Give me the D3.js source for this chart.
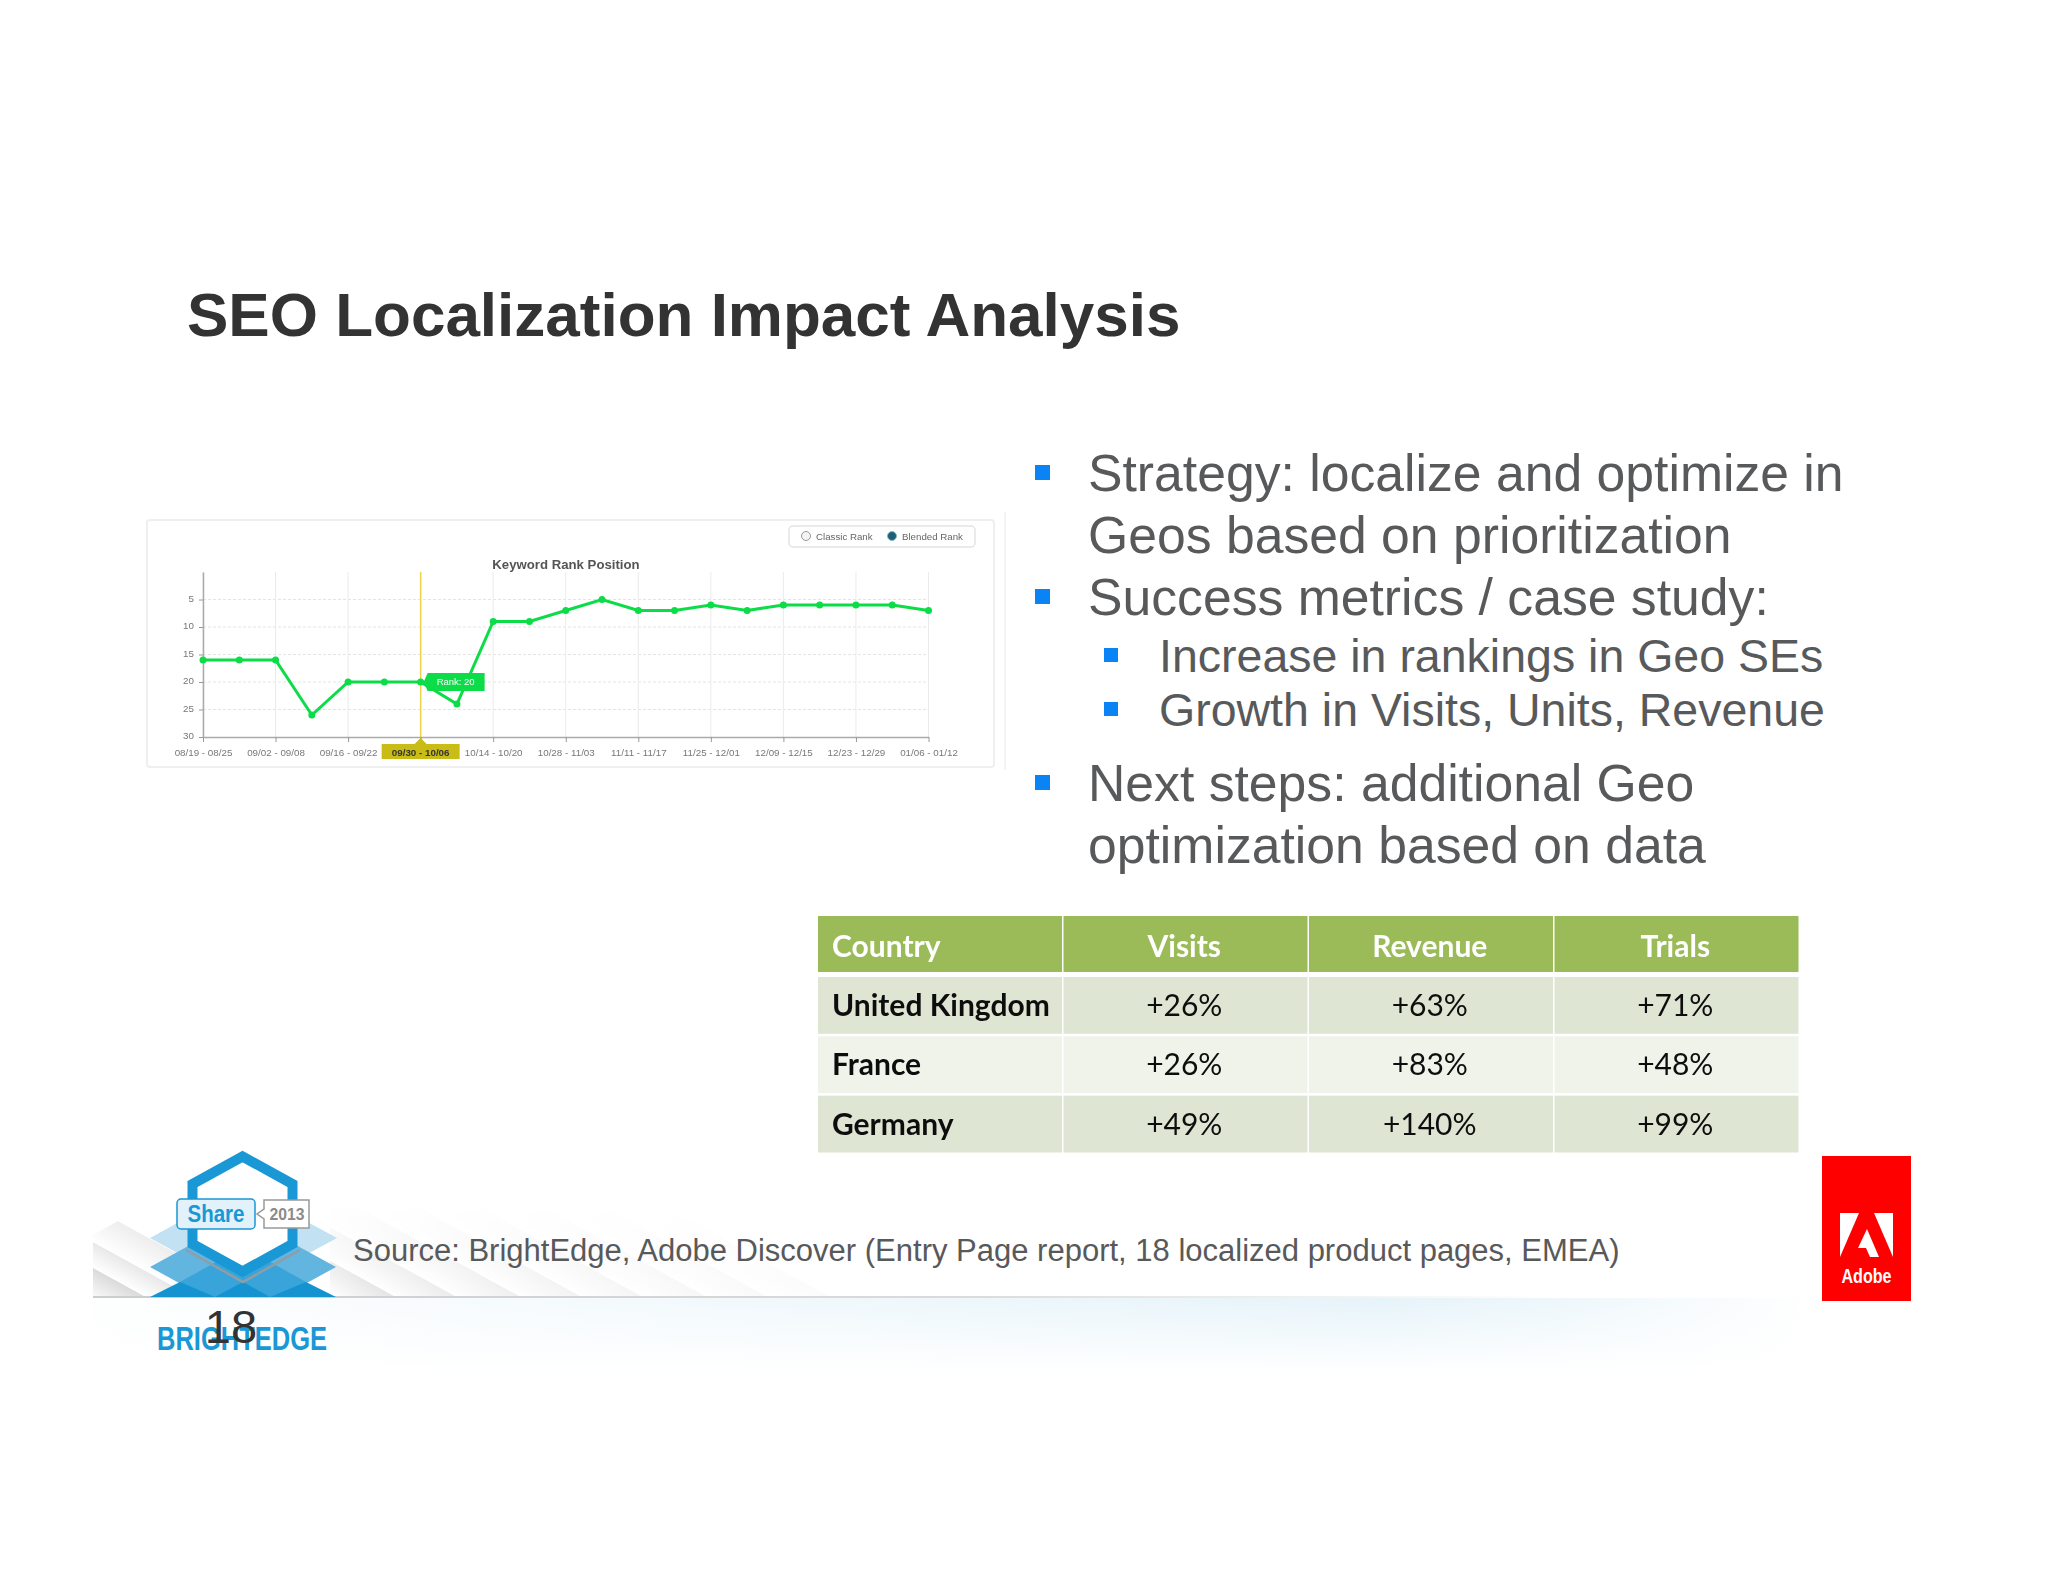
<!DOCTYPE html>
<html>
<head>
<meta charset="utf-8">
<script src="https://cdn.jsdelivr.net/npm/d3@7"></script>
<style>
  html, body { margin: 0; background: #fff; }
  svg { display: block; }
  text { font-family: "Liberation Sans", Arial, sans-serif; }
  .tbl text { font-family: Lato, sans-serif; }
</style>
</head>
<body>
<svg id="slide" width="2048" height="1582"></svg>
<script>
// rank chart data
var weeks = ['08/19 - 08/25', '08/26 - 09/01', '09/02 - 09/08', '09/09 - 09/15', '09/16 - 09/22',
  '09/23 - 09/29', '09/30 - 10/06', '10/07 - 10/13', '10/14 - 10/20', '10/21 - 10/27', '10/28 - 11/03',
  '11/04 - 11/10', '11/11 - 11/17', '11/18 - 11/24', '11/25 - 12/01', '12/02 - 12/08', '12/09 - 12/15',
  '12/16 - 12/22', '12/23 - 12/29', '12/30 - 01/05', '01/06 - 01/12'];
var ranks = [16, 16, 16, 26, 20, 20, 20, 24, 9, 9, 7, 5, 7, 7, 6, 7, 6, 6, 6, 6, 7];
var rankTicks = [5, 10, 15, 20, 25, 30];
var selectedWeek = '09/30 - 10/06';
var selectedRank = 20;

// table data
var columns = ['Country', 'Visits', 'Revenue', 'Trials'];
var countries = ['United Kingdom', 'France', 'Germany'];
var visits = ['+26%', '+26%', '+49%'];
var revenue = ['+63%', '+83%', '+140%'];
var trials = ['+71%', '+48%', '+99%'];

// slide text
var bullets = [
  { text: 'Strategy: localize and optimize in', y: 491, square: true, sub: false },
  { text: 'Geos based on prioritization', y: 553, square: false, sub: false },
  { text: 'Success metrics / case study:', y: 615, square: true, sub: false },
  { text: 'Increase in rankings in Geo SEs', y: 672, square: true, sub: true },
  { text: 'Growth in Visits, Units, Revenue', y: 726, square: true, sub: true },
  { text: 'Next steps: additional Geo', y: 801, square: true, sub: false },
  { text: 'optimization based on data', y: 863, square: false, sub: false }
];

var svg = d3.select('#slide');
var defs = svg.append('defs');

defs.append('filter').attr('id', 'soft').append('feGaussianBlur').attr('stdDeviation', 0.6);
defs.append('filter').attr('id', 'softer').append('feGaussianBlur').attr('stdDeviation', 0.4);

function hGrad(id, stops) {
  var g = defs.append('linearGradient').attr('id', id);
  stops.forEach(function (s) {
    g.append('stop').attr('offset', s[0]).attr('stop-color', s[1]).attr('stop-opacity', s[2]);
  });
  return g;
}
hGrad('glowSide', [[0, '#ffffff', 0.95], [0.55, '#ffffff', 0.3], [0.75, '#ffffff', 0.1], [0.85, '#ffffff', 0.35], [1, '#ffffff', 1]]);
hGrad('ruleGrad', [[0, '#cccccc', 1], [0.5, '#dadada', 1], [0.85, '#ffffff', 1]]);
var glow = defs.append('linearGradient').attr('id', 'glow').attr('x2', 0).attr('y2', 1);
glow.append('stop').attr('offset', 0).attr('stop-color', '#e3f2f9');
glow.append('stop').attr('offset', 1).attr('stop-color', '#ffffff');

var fade = defs.append('linearGradient').attr('id', 'bandFade').attr('x2', 0).attr('y2', 1);
fade.append('stop').attr('offset', 0).attr('stop-color', '#fff').attr('stop-opacity', 0);
fade.append('stop').attr('offset', 0.6).attr('stop-color', '#fff').attr('stop-opacity', 0.7);
fade.append('stop').attr('offset', 1).attr('stop-color', '#fff').attr('stop-opacity', 1);
defs.append('mask').attr('id', 'bandMask').attr('maskUnits', 'userSpaceOnUse')
  .attr('x', 330).attr('y', 1205).attr('width', 900).attr('height', 92)
  .append('rect').attr('x', 330).attr('y', 1205).attr('width', 900).attr('height', 92).attr('fill', 'url(#bandFade)');
defs.append('clipPath').attr('id', 'leftClip').append('polygon').attr('points', '93,1235 118,1221 256,1297 93,1297');
defs.append('clipPath').attr('id', 'logoClip').append('rect').attr('x', 140).attr('y', 1140).attr('width', 210).attr('height', 157);

// diagonal stripes, each one shading up to its right edge
function stripes(parent, edges, idPrefix) {
  edges.forEach(function (e, i) {
    var xb = e[0], w = e[1], rise = 200;
    var g = defs.append('linearGradient').attr('id', idPrefix + i)
      .attr('gradientUnits', 'userSpaceOnUse')
      .attr('x1', xb - w).attr('y1', 1297)
      .attr('x2', xb - w + w * 0.232).attr('y2', 1297 - w * 0.422);
    g.append('stop').attr('offset', 0).attr('stop-color', '#ffffff');
    g.append('stop').attr('offset', 1).attr('stop-color', e[2]);
    parent.append('polygon')
      .attr('points', [[xb - w, 1297], [xb, 1297], [xb - rise, 1297 - rise * 0.55], [xb - w - rise, 1297 - rise * 0.55]].join(' '))
      .attr('fill', 'url(#' + idPrefix + i + ')');
  });
}

// footer
var footer = svg.append('g');
footer.append('rect').attr('x', 93).attr('y', 1298).attr('width', 1720).attr('height', 75).attr('fill', 'url(#glow)');
footer.append('rect').attr('x', 93).attr('y', 1298).attr('width', 1720).attr('height', 75).attr('fill', 'url(#glowSide)');
var leftBands = footer.append('g').attr('clip-path', 'url(#leftClip)');
stripes(leftBands, [[146, 62, '#dadada'], [193, 47, '#e8e8e8'], [256, 63, '#ededed']], 'bl');
var rightBands = footer.append('g').attr('mask', 'url(#bandMask)');
stripes(rightBands, [[396, 62, '#e4e4e4'], [457, 61, '#ebebeb'], [521, 64, '#efefef'], [582, 61, '#f2f2f2'],
  [643, 61, '#f5f5f5'], [707, 64, '#f7f7f7'], [768, 61, '#f9f9f9'], [830, 62, '#fbfbfb']], 'br');
footer.append('rect').attr('x', 93).attr('y', 1296).attr('width', 1720).attr('height', 2).attr('fill', 'url(#ruleGrad)');

// BrightEdge logo
var logo = svg.append('g');
var tiles = logo.append('g').attr('clip-path', 'url(#logoClip)');
[
  ['150,1238 243,1187 337,1238 243,1289', '#c2e2f3'],
  ['150,1267 243,1216 336,1267 243,1318', '#62b5df'],
  ['180,1282 243,1247 306,1282 243,1317', '#38a4da'],
  ['150,1297 180,1282 215,1297', '#1592d0'],
  ['215,1297 243,1282 270,1297', '#1592d0'],
  ['270,1297 306,1282 336,1297', '#1592d0']
].forEach(function (d) { tiles.append('polygon').attr('points', d[0]).attr('fill', d[1]); });
logo.append('polyline').attr('points', '186,1250 243,1282 300,1250')
  .attr('fill', 'none').attr('stroke', '#8f9ea6').attr('stroke-width', 2.5);
logo.append('polygon').attr('points', '242.5,1156.5 292.5,1184 292.5,1244 242.5,1271.5 192.5,1244 192.5,1184')
  .attr('fill', '#fff').attr('stroke', '#1a97d5').attr('stroke-width', 10);
logo.append('rect').attr('x', 177).attr('y', 1199).attr('width', 78).attr('height', 30).attr('rx', 4)
  .attr('fill', '#e2f1fa').attr('stroke', '#1a97d5').attr('stroke-width', 1.5);
logo.append('text').attr('x', 216).attr('y', 1222).attr('text-anchor', 'middle')
  .attr('textLength', 57).attr('lengthAdjust', 'spacingAndGlyphs')
  .attr('font-size', 24).attr('font-weight', 700).attr('fill', '#1a97d5').text('Share');
logo.append('polygon').attr('points', '264,1200 309,1200 309,1228 264,1228 264,1219 257,1214 264,1209')
  .attr('fill', '#fff').attr('stroke', '#999').attr('stroke-width', 1.5);
logo.append('text').attr('x', 287).attr('y', 1220).attr('text-anchor', 'middle')
  .attr('textLength', 35).attr('lengthAdjust', 'spacingAndGlyphs')
  .attr('font-size', 17).attr('font-weight', 700).attr('fill', '#8a8a8a').text('2013');
logo.append('text').attr('x', 157).attr('y', 1350).attr('textLength', 170).attr('lengthAdjust', 'spacingAndGlyphs')
  .attr('font-size', 33).attr('font-weight', 700).attr('fill', '#1a97d5').text('BRIGHTEDGE');

// page number sits on the logo in the original
svg.append('text').attr('x', 231).attr('y', 1343).attr('text-anchor', 'middle')
  .attr('font-size', 47).attr('fill', '#333').text('18');

// source line
svg.append('text').attr('x', 353).attr('y', 1261)
  .attr('font-size', 31).attr('fill', '#58595b')
  .text('Source: BrightEdge, Adobe Discover (Entry Page report, 18 localized product pages, EMEA)');

// title
svg.append('text').attr('x', 187).attr('y', 336)
  .attr('font-size', 62).attr('font-weight', 700).attr('fill', '#333')
  .text('SEO Localization Impact Analysis');

// bullet list
var list = svg.append('g');
bullets.forEach(function (b) {
  var tx = b.sub ? 1159 : 1088;
  list.append('text').attr('x', tx).attr('y', b.y)
    .attr('font-size', b.sub ? 46.5 : 51.7).attr('fill', '#58595b').text(b.text);
  if (b.square) {
    list.append('rect').attr('x', b.sub ? 1104 : 1035).attr('y', b.y - (b.sub ? 24 : 26))
      .attr('width', b.sub ? 14 : 15).attr('height', b.sub ? 14 : 15).attr('fill', '#0a84f5');
  }
});

// rank chart
var chart = svg.append('g').attr('filter', 'url(#soft)');
chart.append('line').attr('x1', 1005).attr('x2', 1005).attr('y1', 512).attr('y2', 770).attr('stroke', '#f4f4f4').attr('stroke-width', 2);
chart.append('rect').attr('x', 147).attr('y', 520).attr('width', 847).attr('height', 247).attr('rx', 3)
  .attr('fill', '#fff').attr('stroke', '#efefef').attr('stroke-width', 2);

var legend = chart.append('g');
legend.append('rect').attr('x', 789).attr('y', 526).attr('width', 186).attr('height', 21).attr('rx', 4)
  .attr('fill', '#fff').attr('stroke', '#e4e4e4').attr('stroke-width', 1.5);
legend.append('circle').attr('cx', 806).attr('cy', 536).attr('r', 4.5).attr('fill', '#f4f4f4').attr('stroke', '#999');
legend.append('circle').attr('cx', 892).attr('cy', 536).attr('r', 4.5).attr('fill', '#1b5e7d').attr('stroke', '#8bb');
legend.append('text').attr('x', 816).attr('y', 540).attr('font-size', 9.7).attr('fill', '#666').text('Classic Rank');
legend.append('text').attr('x', 902).attr('y', 540).attr('font-size', 9.7).attr('fill', '#666').text('Blended Rank');

chart.append('text').attr('x', 566).attr('y', 569).attr('text-anchor', 'middle')
  .attr('font-size', 13.2).attr('font-weight', 700).attr('fill', '#555').text('Keyword Rank Position');

var x = d3.scalePoint().domain(weeks).range([203, 928.5]);
var y = d3.scaleLinear().domain([0, 30]).range([572, 737]);
var labelWeeks = weeks.filter(function (d, i) { return i % 2 === 0; });

// grid
chart.append('g').selectAll('line').data(rankTicks.slice(0, -1)).join('line')
  .attr('x1', x.range()[0]).attr('x2', x.range()[1])
  .attr('y1', function (d) { return y(d); }).attr('y2', function (d) { return y(d); })
  .attr('stroke', '#e4e4e4').attr('stroke-dasharray', '3,2');
chart.append('g').selectAll('line').data(labelWeeks).join('line')
  .attr('x1', function (d) { return x(d); }).attr('x2', function (d) { return x(d); })
  .attr('y1', y(0)).attr('y2', y(30))
  .attr('stroke', '#ebebeb');

var xAxis = chart.append('g').attr('transform', 'translate(0,' + y(30) + ')')
  .call(d3.axisBottom(x).tickValues(labelWeeks).tickSize(5).tickSizeOuter(0).tickPadding(7));
xAxis.select('.domain').attr('stroke', '#aaa').attr('stroke-width', 1.5);
xAxis.selectAll('.tick line').attr('stroke', '#999');
xAxis.selectAll('text').attr('font-size', 9.8).attr('font-family', '"Liberation Sans"').attr('fill', '#777');

var yAxis = chart.append('g').attr('transform', 'translate(' + x.range()[0] + ',0)')
  .call(d3.axisLeft(y).tickValues(rankTicks).tickSize(4).tickSizeOuter(0).tickPadding(5));
yAxis.select('.domain').attr('stroke', '#aaa').attr('stroke-width', 1.5);
yAxis.selectAll('.tick line').attr('stroke', '#999');
yAxis.selectAll('text').attr('font-size', 9.8).attr('font-family', '"Liberation Sans"').attr('fill', '#777').attr('dy', '0.2em');

// selected week marker
var selX = x(selectedWeek);
chart.append('line').attr('x1', selX).attr('x2', selX).attr('y1', y(0)).attr('y2', y(30))
  .attr('stroke', '#e8d44d').attr('stroke-width', 1.5);
chart.append('rect').attr('x', selX - 39).attr('y', 744).attr('width', 78).attr('height', 15).attr('fill', '#c9bc12');
chart.append('polygon').attr('points', [[selX, 738], [selX - 6, 744], [selX + 6, 744]].join(' ')).attr('fill', '#c9bc12');
chart.append('text').attr('x', selX).attr('y', 755.5).attr('text-anchor', 'middle')
  .attr('font-size', 9.8).attr('font-weight', 700).attr('fill', '#333').text(selectedWeek);

// rank line
var line = d3.line()
  .x(function (d, i) { return x(weeks[i]); })
  .y(function (d) { return y(d); });
chart.append('path').datum(ranks).attr('d', line)
  .attr('fill', 'none').attr('stroke', '#0cdc48').attr('stroke-width', 3);
chart.append('g').selectAll('circle').data(ranks).join('circle')
  .attr('cx', function (d, i) { return x(weeks[i]); })
  .attr('cy', function (d) { return y(d); })
  .attr('r', 3.5).attr('fill', '#0cdc48');

// tooltip
var tipY = y(selectedRank);
chart.append('polygon')
  .attr('points', [[selX + 3, tipY], [selX + 7, tipY - 9], [selX + 64, tipY - 9], [selX + 64, tipY + 9], [selX + 7, tipY + 9]].join(' '))
  .attr('fill', '#0cdc48');
chart.append('text').attr('x', selX + 35).attr('y', tipY + 3).attr('text-anchor', 'middle')
  .attr('font-size', 9.5).attr('fill', '#fff').text('Rank: ' + selectedRank);

// results table
var colX = d3.scaleBand().domain(columns).range([818, 1800]);
var rowY = d3.scaleBand().domain(countries).range([977, 1155]);
var colValues = { Visits: visits, Revenue: revenue, Trials: trials };
var tbl = svg.append('g').attr('class', 'tbl').attr('filter', 'url(#softer)');

tbl.selectAll('rect.head').data(columns).join('rect').attr('class', 'head')
  .attr('x', function (d) { return colX(d); }).attr('y', 916)
  .attr('width', colX.bandwidth() - 1.5).attr('height', 56).attr('fill', '#9bbb59');
tbl.selectAll('text.head').data(columns).join('text').attr('class', 'head')
  .attr('x', function (d, i) { return i === 0 ? colX(d) + 14 : colX(d) + colX.bandwidth() / 2 - 2; })
  .attr('y', 957)
  .attr('text-anchor', function (d, i) { return i === 0 ? 'start' : 'middle'; })
  .attr('font-size', 30).attr('font-weight', 700).attr('fill', '#fff')
  .text(function (d) { return d; });

countries.forEach(function (c, r) {
  var fill = r === 1 ? '#eff3ea' : '#dfe5d3';
  columns.forEach(function (col, i) {
    tbl.append('rect').attr('x', colX(col)).attr('y', rowY(c))
      .attr('width', colX.bandwidth() - 1.5).attr('height', rowY.bandwidth() - 2.5).attr('fill', fill);
    tbl.append('text')
      .attr('x', i === 0 ? colX(col) + 14 : colX(col) + colX.bandwidth() / 2 - 2)
      .attr('y', rowY(c) + 39)
      .attr('text-anchor', i === 0 ? 'start' : 'middle')
      .attr('font-size', 30).attr('font-weight', i === 0 ? 700 : 400)
      .attr('fill', '#111')
      .text(i === 0 ? c : colValues[col][r]);
  });
});

// Adobe logo
var adobe = svg.append('g');
adobe.append('rect').attr('x', 1822).attr('y', 1156).attr('width', 89).attr('height', 145).attr('fill', '#ff0000');
['1840,1213 1859,1213 1840,1257', '1874,1213 1893,1213 1893,1257', '1867,1229 1879,1257 1870,1257 1866,1248 1858,1248']
  .forEach(function (p) { adobe.append('polygon').attr('points', p).attr('fill', '#fff'); });
adobe.append('text').attr('x', 1866.5).attr('y', 1283).attr('text-anchor', 'middle')
  .attr('textLength', 50).attr('lengthAdjust', 'spacingAndGlyphs')
  .attr('font-size', 20).attr('font-weight', 700).attr('fill', '#fff').text('Adobe');
</script>
</body>
</html>
